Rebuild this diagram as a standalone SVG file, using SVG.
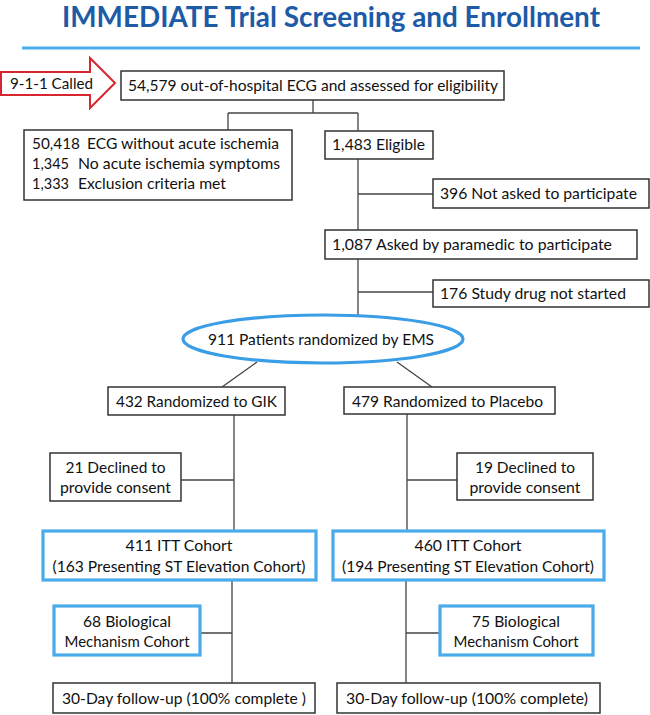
<svg xmlns="http://www.w3.org/2000/svg" width="650" height="715" viewBox="0 0 650 715">
<style>
  text { font-family: Lato, "Liberation Sans", Arial, sans-serif; font-size: 16px; fill: #111; }
  .title { font-size: 28px; font-weight: bold; fill: #1d5ba7; }
  .box { fill: #fff; stroke: #333; stroke-width: 1.5; }
  .bbox { fill: #fff; stroke: #4aabea; stroke-width: 3.2; }
  .conn { stroke: #444; stroke-width: 1.3; fill: none; }
  .mid { text-anchor: middle; }
</style>
<rect width="650" height="715" fill="#fff"/>
<text id="title" class="title" x="62" y="27" textLength="538" lengthAdjust="spacingAndGlyphs">IMMEDIATE Trial Screening and Enrollment</text>
<line x1="22" y1="48" x2="640" y2="48" stroke="#4aaee8" stroke-width="3"/>

<g id="connectors" class="conn">
  <path d="M313 99 V113 M228 113 H358 M228 113 V130 M358 113 V131"/>
  <path d="M358 159 V320 M358 194 H433 M358 292 H433"/>
  <path d="M257 362 L222 387 M397 362 L432 387"/>
  <path d="M234 415 V530 M181 480 H234"/>
  <path d="M407 414 V530 M407 480 H457"/>
  <path d="M232 581 V683 M200 633 H232"/>
  <path d="M406 581 V683 M406 633 H439"/>
</g>

<g id="called">
  <polygon points="1,72 90,72 90,58 115,83 90,108 90,95 1,95" fill="#fff" stroke="#d7262f" stroke-width="2"/>
  <text x="10" y="89" textLength="83" lengthAdjust="spacingAndGlyphs">9-1-1 Called</text>
</g>

<g id="n-assessed">
  <rect class="box" x="121" y="71" width="383" height="29"/>
  <text x="128" y="91" textLength="370" lengthAdjust="spacingAndGlyphs">54,579 out-of-hospital ECG and assessed for eligibility</text>
</g>

<g id="n-excluded">
  <rect class="box" x="24" y="130" width="268" height="70"/>
  <text y="149"><tspan x="32" textLength="48" lengthAdjust="spacingAndGlyphs">50,418</tspan><tspan x="87" textLength="192" lengthAdjust="spacingAndGlyphs">ECG without acute ischemia</tspan></text>
  <text y="169"><tspan x="32" textLength="37" lengthAdjust="spacingAndGlyphs">1,345</tspan><tspan x="78" textLength="202" lengthAdjust="spacingAndGlyphs">No acute ischemia symptoms</tspan></text>
  <text y="189"><tspan x="32" textLength="37" lengthAdjust="spacingAndGlyphs">1,333</tspan><tspan x="78" textLength="148" lengthAdjust="spacingAndGlyphs">Exclusion criteria met</tspan></text>
</g>

<g id="n-eligible">
  <rect class="box" x="325" y="131" width="108" height="28"/>
  <text x="332" y="150" textLength="93" lengthAdjust="spacingAndGlyphs">1,483 Eligible</text>
</g>

<g id="n-notasked">
  <rect class="box" x="433" y="179" width="216" height="29"/>
  <text x="440" y="199" textLength="197" lengthAdjust="spacingAndGlyphs">396 Not asked to participate</text>
</g>

<g id="n-asked">
  <rect class="box" x="325" y="230" width="312" height="29"/>
  <text x="332" y="250" textLength="280" lengthAdjust="spacingAndGlyphs">1,087 Asked by paramedic to participate</text>
</g>

<g id="n-notstarted">
  <rect class="box" x="433" y="280" width="216" height="27"/>
  <text x="440" y="299" textLength="186" lengthAdjust="spacingAndGlyphs">176 Study drug not started</text>
</g>

<g id="n-randomized">
  <ellipse cx="323" cy="339" rx="140" ry="24" fill="#fff" stroke="#3a9ee6" stroke-width="3.2"/>
  <text x="208" y="345" font-size="17" textLength="226" lengthAdjust="spacingAndGlyphs">911 Patients randomized by EMS</text>
</g>

<g id="n-gik">
  <rect class="box" x="108" y="387" width="177" height="28"/>
  <text x="116" y="407" textLength="161" lengthAdjust="spacingAndGlyphs">432 Randomized to GIK</text>
</g>

<g id="n-placebo">
  <rect class="box" x="344" y="387" width="211" height="27"/>
  <text x="352" y="407" textLength="191" lengthAdjust="spacingAndGlyphs">479 Randomized to Placebo</text>
</g>

<g id="n-declined-gik">
  <rect class="box" x="50" y="453" width="131" height="48"/>
  <text class="mid" x="115.5" y="473" textLength="100" lengthAdjust="spacingAndGlyphs">21 Declined to</text>
  <text class="mid" x="115.5" y="493" textLength="111" lengthAdjust="spacingAndGlyphs">provide consent</text>
</g>

<g id="n-declined-placebo">
  <rect class="box" x="457" y="453" width="136" height="47"/>
  <text class="mid" x="525" y="473" textLength="100" lengthAdjust="spacingAndGlyphs">19 Declined to</text>
  <text class="mid" x="525" y="493" textLength="111" lengthAdjust="spacingAndGlyphs">provide consent</text>
</g>

<g id="n-itt-gik">
  <rect class="bbox" x="43" y="531" width="273" height="49"/>
  <text class="mid" x="179" y="551" textLength="107" lengthAdjust="spacingAndGlyphs">411  ITT Cohort</text>
  <text class="mid" x="179" y="572" textLength="253" lengthAdjust="spacingAndGlyphs">(163 Presenting ST Elevation Cohort)</text>
</g>

<g id="n-itt-placebo">
  <rect class="bbox" x="333" y="531" width="271" height="49"/>
  <text class="mid" x="468" y="551" textLength="107" lengthAdjust="spacingAndGlyphs">460  ITT Cohort</text>
  <text class="mid" x="468" y="572" textLength="252" lengthAdjust="spacingAndGlyphs">(194 Presenting ST Elevation Cohort)</text>
</g>

<g id="n-bio-gik">
  <rect class="bbox" x="54" y="606" width="146" height="49"/>
  <text class="mid" x="127" y="627" textLength="88" lengthAdjust="spacingAndGlyphs">68 Biological</text>
  <text class="mid" x="127" y="647" textLength="125" lengthAdjust="spacingAndGlyphs">Mechanism Cohort</text>
</g>

<g id="n-bio-placebo">
  <rect class="bbox" x="440" y="606" width="153" height="49"/>
  <text class="mid" x="516" y="627" textLength="88" lengthAdjust="spacingAndGlyphs">75 Biological</text>
  <text class="mid" x="516" y="647" textLength="125" lengthAdjust="spacingAndGlyphs">Mechanism Cohort</text>
</g>

<g id="n-fu-gik">
  <rect class="box" x="53" y="683" width="262" height="30"/>
  <text x="62" y="704" textLength="244" lengthAdjust="spacingAndGlyphs">30-Day follow-up (100% complete )</text>
</g>

<g id="n-fu-placebo">
  <rect class="box" x="337" y="683" width="263" height="30"/>
  <text x="346" y="704" textLength="242" lengthAdjust="spacingAndGlyphs">30-Day follow-up (100% complete)</text>
</g>
</svg>
